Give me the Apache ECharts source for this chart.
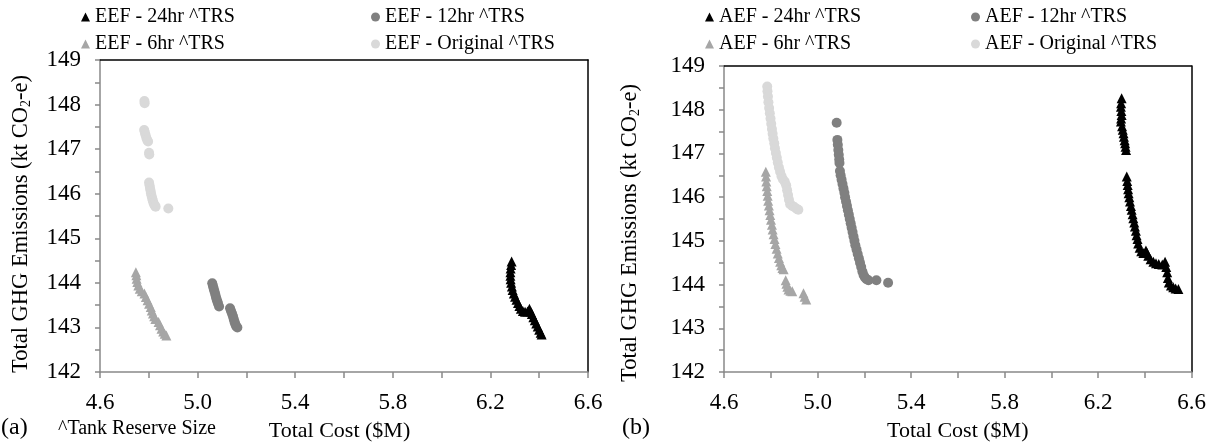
<!DOCTYPE html>
<html>
<head>
<meta charset="utf-8">
<script src="https://cdn.jsdelivr.net/npm/echarts@6/dist/echarts.min.js"></script>
<style>html,body{margin:0;padding:0;background:#fff}#c{width:1215px;height:448px}</style>
</head>
<body>
<div id="c"></div>
<script>
// ---- Data (x = Total Cost $M, y = Total GHG Emissions kt CO2-e) ----
const namesA = ['EEF - 24hr ^TRS', 'EEF - 12hr ^TRS', 'EEF - 6hr ^TRS', 'EEF - Original ^TRS'];
const namesB = ['AEF - 24hr ^TRS', 'AEF - 12hr ^TRS', 'AEF - 6hr ^TRS', 'AEF - Original ^TRS'];
const xTicks = [4.6, 5.0, 5.4, 5.8, 6.2, 6.6];
const yTicks = [142, 143, 144, 145, 146, 147, 148, 149];

const eef24 = [[6.287,144.48],[6.285,144.40],[6.283,144.32],[6.282,144.24],[6.282,144.16],[6.283,144.08],[6.285,144.00],[6.288,143.92],[6.291,143.84],[6.296,143.76],[6.301,143.69],[6.307,143.62],[6.313,143.55],[6.319,143.48],[6.325,143.42],[6.333,143.37],[6.342,143.35],[6.352,143.36],[6.360,143.42],[6.365,143.36],[6.370,143.30],[6.376,143.23],[6.382,143.16],[6.388,143.09],[6.394,143.02],[6.400,142.95],[6.406,142.88],[6.410,142.84]];
const eef12 = [[5.060,143.99],[5.063,143.93],[5.066,143.87],[5.069,143.81],[5.072,143.75],[5.075,143.69],[5.078,143.63],[5.081,143.58],[5.084,143.53],[5.088,143.47],
  [5.133,143.43],[5.137,143.37],[5.141,143.31],[5.145,143.25],[5.148,143.19],[5.151,143.13],[5.154,143.08],[5.158,143.03],[5.163,143.00]];
const eef6 = [[4.747,144.24],[4.749,144.17],[4.750,144.09],[4.753,144.02],[4.757,143.94],[4.763,143.87],[4.771,143.81],[4.782,143.76],[4.788,143.68],[4.795,143.61],[4.801,143.53],[4.808,143.46],[4.812,143.38],[4.817,143.31],[4.822,143.25],[4.827,143.19],[4.840,143.12],[4.846,143.05],[4.852,142.97],[4.859,142.91],[4.865,142.86],[4.872,142.82]];
const eefOrig = [[4.782,148.08],[4.783,148.03],
  [4.781,147.43],[4.784,147.37],[4.787,147.31],[4.790,147.25],[4.794,147.20],[4.797,147.17],[4.801,146.92],[4.802,146.88],
  [4.801,146.25],[4.803,146.19],[4.805,146.13],[4.807,146.07],[4.809,146.01],[4.811,145.96],[4.814,145.90],[4.816,145.85],[4.819,145.80],[4.822,145.76],[4.825,145.73],[4.828,145.71],
  [4.880,145.67]];

const aef24 = [[6.301,148.26],[6.299,148.15],[6.298,148.07],[6.300,147.97],[6.301,147.88],[6.299,147.80],[6.298,147.73],[6.303,147.62],[6.306,147.54],[6.309,147.46],[6.311,147.38],[6.314,147.30],[6.316,147.23],[6.318,147.15],[6.320,147.08],
  [6.323,146.47],[6.325,146.37],[6.327,146.28],[6.329,146.18],[6.331,146.09],[6.334,146.00],[6.337,145.90],[6.341,145.80],[6.344,145.71],[6.348,145.61],[6.351,145.52],[6.355,145.42],[6.358,145.33],[6.362,145.23],[6.365,145.13],[6.369,145.04],[6.372,144.94],[6.378,144.84],[6.385,144.76],[6.394,144.72],[6.405,144.78],[6.410,144.72],[6.415,144.66],[6.425,144.58],[6.437,144.52],[6.448,144.49],[6.460,144.47],[6.475,144.46],[6.487,144.52],[6.492,144.40],[6.496,144.28],[6.499,144.15],[6.503,144.05],[6.512,143.98],[6.522,143.94],[6.532,143.91],[6.544,143.90]];
const aef12 = [[5.082,147.70],
  [5.085,147.31],[5.087,147.20],[5.089,147.08],[5.091,146.97],[5.093,146.86],[5.094,146.78],[5.096,146.60],[5.099,146.50],[5.103,146.40],[5.107,146.30],[5.111,146.20],[5.115,146.10],[5.118,146.00],[5.122,145.90],[5.126,145.80],[5.130,145.70],[5.134,145.60],[5.138,145.50],[5.142,145.40],[5.146,145.30],[5.150,145.20],[5.154,145.10],[5.158,145.00],[5.162,144.90],[5.167,144.80],[5.172,144.70],[5.177,144.60],[5.182,144.50],[5.187,144.40],[5.192,144.30],[5.197,144.22],[5.203,144.16],[5.210,144.12],[5.218,144.10],
  [5.252,144.10],[5.302,144.04]];
const aef6 = [[4.779,146.58],[4.780,146.47],[4.781,146.36],[4.783,146.25],[4.785,146.14],[4.787,146.03],[4.789,145.92],[4.792,145.81],[4.795,145.70],[4.798,145.59],[4.801,145.48],[4.805,145.37],[4.808,145.26],[4.812,145.15],[4.816,145.04],[4.820,144.93],[4.825,144.82],[4.830,144.71],[4.835,144.61],[4.840,144.52],[4.845,144.44],[4.850,144.38],[4.855,144.35],
  [4.864,144.10],[4.867,144.02],[4.871,143.95],[4.876,143.89],[4.884,143.86],[4.892,143.85],
  [4.940,143.80],[4.945,143.72],[4.952,143.66]];
const aefOrig = [[4.785,148.53],[4.786,148.42],[4.788,148.30],[4.790,148.17],[4.793,148.04],[4.796,147.92],[4.799,147.80],[4.802,147.68],[4.805,147.56],[4.808,147.45],[4.811,147.34],[4.815,147.23],[4.818,147.12],[4.822,147.01],[4.826,146.90],[4.830,146.79],[4.835,146.68],[4.840,146.58],[4.846,146.48],[4.852,146.41],[4.860,146.35],[4.866,146.27],[4.870,146.16],[4.874,146.05],[4.878,145.94],[4.883,145.84],[4.892,145.80],[4.902,145.77],[4.912,145.73],[4.918,145.71]];

// ---- Styles ----
const FONT = '"Liberation Serif", "Times New Roman", serif';
const colors = ['#000000', '#808080', '#a6a6a6', '#d9d9d9'];
const symbols = ['triangle', 'circle', 'triangle', 'circle'];
const AXIS_GRAY = '#898989';
const xMin = xTicks[0], xMax = xTicks[xTicks.length - 1];
const yMin = yTicks[0], yMax = yTicks[yTicks.length - 1];

const grids = [
  {left: 100, top: 60, width: 488, height: 312, outerBoundsMode: 'none', containLabel: false},
  {left: 724, top: 66, width: 467.5, height: 306, outerBoundsMode: 'none', containLabel: false}
];

function mainX(gi, namePad) {
  return {
    type: 'value', gridIndex: gi, min: xMin, max: xMax, interval: 0.2, position: 'bottom',
    name: 'Total Cost ($M)', nameLocation: 'middle', nameGap: 48,
    nameTextStyle: {fontFamily: FONT, fontSize: 22, color: '#000', padding: namePad},
    axisLine: {show: true, onZero: false, lineStyle: {color: AXIS_GRAY, width: 1.5}},
    axisTick: {show: true, length: 6, lineStyle: {color: AXIS_GRAY, width: 1.5}},
    axisLabel: {
      fontFamily: FONT, fontSize: 23, color: '#000', margin: 19,
      formatter: v => {
        const k = Math.round(v * 10);
        return xTicks.some(t => Math.round(t * 10) === k) ? (k / 10).toFixed(1) : '';
      }
    },
    splitLine: {show: false}
  };
}
function borderX(gi) {
  return {
    type: 'value', gridIndex: gi, min: xMin, max: xMax, position: 'top',
    axisLine: {show: true, onZero: false, lineStyle: {color: '#000', width: 1.5}},
    axisTick: {show: false}, axisLabel: {show: false}, splitLine: {show: false}
  };
}
function mainY(gi, gap, namePad) {
  return {
    type: 'value', gridIndex: gi, min: yMin, max: yMax, interval: 0.5, position: 'left',
    name: 'Total GHG Emissions (kt CO{sub|2}-e)', nameLocation: 'middle', nameGap: gap, nameRotate: 90,
    nameTextStyle: {
      fontFamily: FONT, fontSize: 22.5, color: '#000', padding: namePad,
      rich: {sub: {fontFamily: FONT, fontSize: 14, lineHeight: 10, verticalAlign: 'bottom', color: '#000'}}
    },
    axisLine: {show: true, onZero: false, lineStyle: {color: AXIS_GRAY, width: 1.5}},
    axisTick: {show: true, length: 5, lineStyle: {color: AXIS_GRAY, width: 1.5}},
    axisLabel: {
      fontFamily: FONT, fontSize: 23, color: '#000', margin: 19,
      formatter: v => (yTicks.indexOf(v) >= 0 ? String(v) : '')
    },
    splitLine: {show: false}
  };
}
function borderY(gi) {
  return {
    type: 'value', gridIndex: gi, min: yMin, max: yMax, position: 'right',
    axisLine: {show: true, onZero: false, lineStyle: {color: '#000', width: 1.5}},
    axisTick: {show: false}, axisLabel: {show: false}, splitLine: {show: false}
  };
}

const xAxes = [mainX(0, [0, 9, 0, 0]), borderX(0), mainX(1, 0), borderX(1)];
const yAxes = [mainY(0, 67, [0, 16, 0, 0]), borderY(0), mainY(1, 82, [0, 28, 0, 0]), borderY(1)];

const dataA = [eef24, eef12, eef6, eefOrig];
const dataB = [aef24, aef12, aef6, aefOrig];

const series = [];
[[namesA, dataA, 0], [namesB, dataB, 1]].forEach(([names, datas, gi]) => {
  // draw lighter series first so darker ones sit on top
  [3, 2, 1, 0].forEach(i => {
    series.push({
      type: 'scatter', name: names[i], xAxisIndex: gi * 2, yAxisIndex: gi * 2,
      data: datas[i], symbol: symbols[i], symbolSize: 10,
      itemStyle: {color: colors[i], opacity: 1},
      emphasis: {disabled: true}, animation: false
    });
  });
});

const legendPosA = [[81, 7], [371, 7], [81, 34], [371, 34]];
const legendPosB = [[705, 7], [971, 7], [705, 34], [971, 34]];
const legends = [];
function addLegends(names, pos) {
  names.forEach((n, i) => {
    legends.push({
      data: [{name: n, icon: symbols[i]}], left: pos[i][0], top: pos[i][1],
      itemWidth: 9, itemHeight: 9, selectedMode: false, padding: 0,
      textStyle: {fontFamily: FONT, fontSize: 20, color: '#000'}
    });
  });
}
addLegends(namesA, legendPosA);
addLegends(namesB, legendPosB);

const chart = echarts.init(document.getElementById('c'), null, {renderer: 'canvas'});
chart.setOption({
  backgroundColor: '#fff',
  animation: false,
  grid: grids,
  xAxis: xAxes,
  yAxis: yAxes,
  legend: legends,
  series: series,
  graphic: [
    {type: 'text', left: 1, top: 416, style: {text: '(a)', fontFamily: FONT, fontSize: 24, fill: '#000'}},
    {type: 'text', left: 58, top: 419, style: {text: '^Tank Reserve Size', fontFamily: FONT, fontSize: 20, fill: '#000'}},
    {type: 'text', left: 622, top: 416, style: {text: '(b)', fontFamily: FONT, fontSize: 24, fill: '#000'}}
  ]
});
</script>
</body>
</html>
